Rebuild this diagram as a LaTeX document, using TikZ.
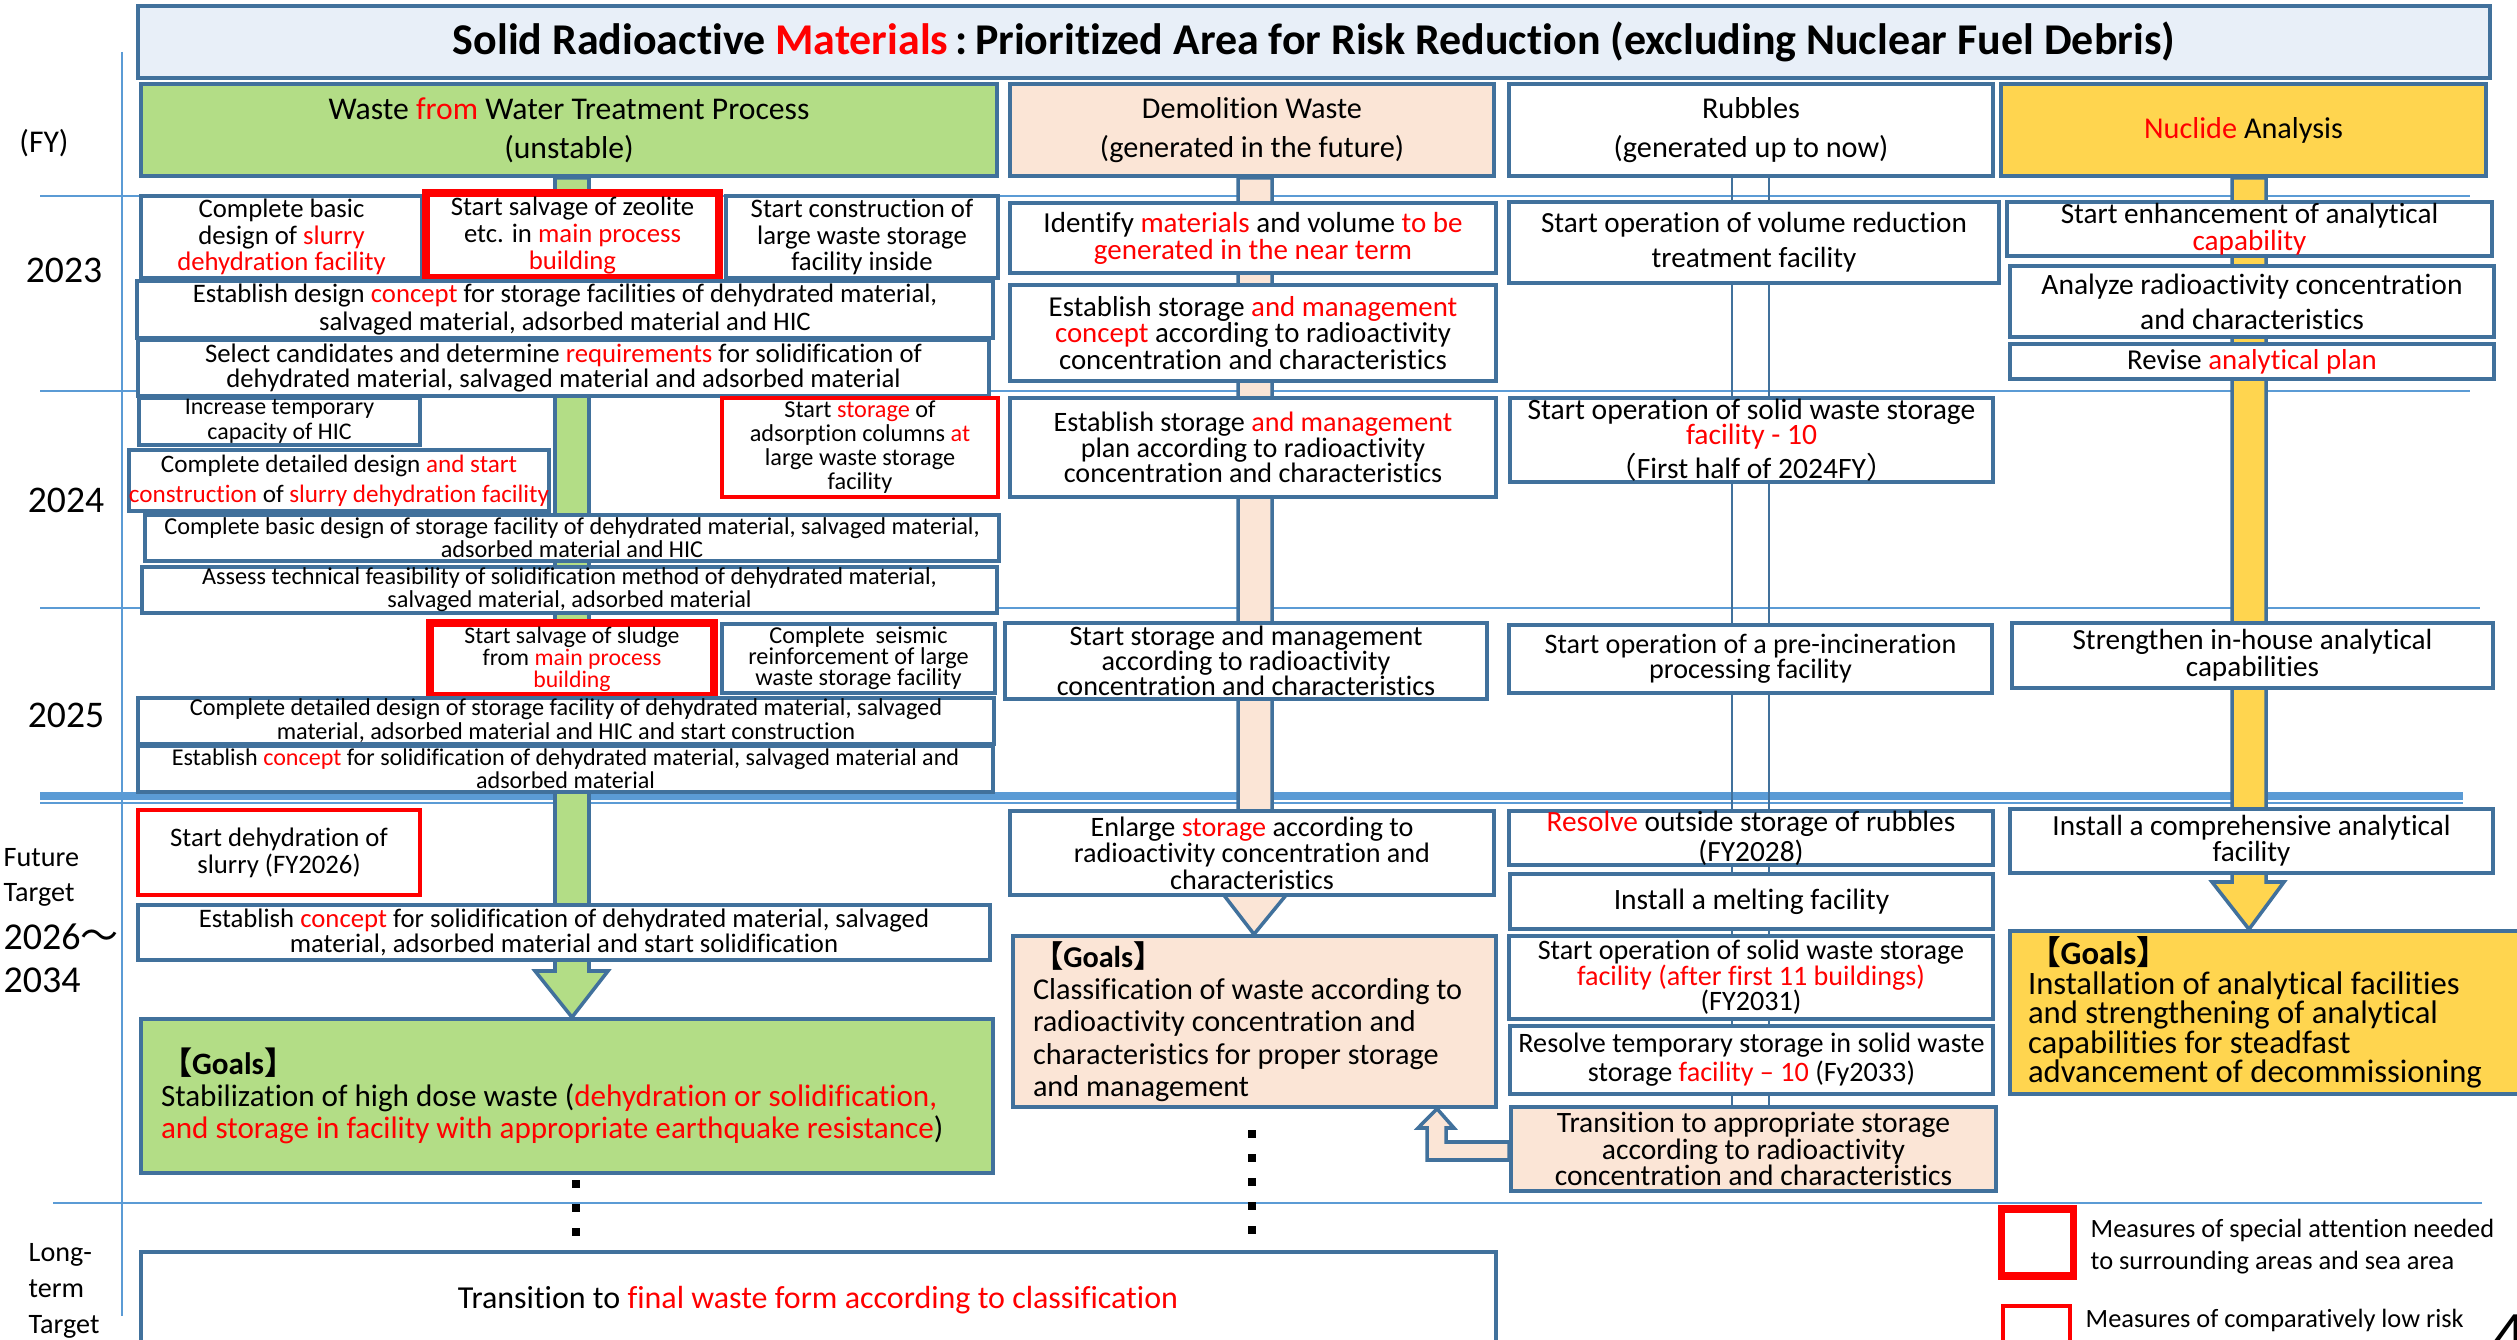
\documentclass[tikz,border=0pt]{standalone}
\usepackage{fontspec}
\setmainfont{Carlito}[Ligatures=NoCommon]
\newfontfamily\cjk{Noto Sans CJK JP}
\usetikzlibrary{calc}
\definecolor{bordblue}{HTML}{41719C}
\definecolor{lineblue}{HTML}{5B9BD5}
\definecolor{titlefill}{HTML}{E8EFF8}
\definecolor{grfill}{HTML}{B3DD86}
\definecolor{pcfill}{HTML}{FBE5D6}
\definecolor{gdfill}{HTML}{FFD54F}
\definecolor{rdc}{HTML}{FF0000}
\newcommand\rd[1]{\textcolor{rdc}{#1}}
\newcommand\fs[2]{\fontsize{#1}{#2}\selectfont}
\newcommand\bx[7]{\node[#6,minimum width={(#4-#2)*0.01cm},minimum height={(#5-#3)*0.01cm}] (#1) at ({(#2+#4)/2},{(#3+#5)/2}) {#7};}
\tikzset{
  bb/.style={draw=bordblue,line width=1pt,fill=white,align=center,inner sep=0pt},
  rthick/.style={draw=rdc,line width=2pt,fill=white,align=center,inner sep=0pt},
  rthin/.style={draw=rdc,line width=0.9pt,fill=white,align=center,inner sep=0pt},
  guide/.style={draw=lineblue,line width=0.6pt},
  barstyle/.style={draw=bordblue,line width=1pt},
  lbl/.style={inner sep=0pt,align=left,anchor=west},
  dotsq/.style={fill=black}
}
\begin{document}
\begin{tikzpicture}[x=0.01cm,y=-0.01cm]
\useasboundingbox (0,0) rectangle (2517,1340);
\clip (0,0) rectangle (2517,1340);
% guide lines
\draw[guide] (122,52) -- (122,1316);
\draw[guide] (40,196) -- (2470,196);
\draw[guide] (40,391) -- (2470,391);
\draw[guide] (40,608) -- (2480,608);
\draw[draw=lineblue,line width=2.3pt] (40,796) -- (2463,796);
\draw[guide] (40,803) -- (2463,803);
\draw[guide] (53,1203) -- (2482,1203);
% title
\bx{title}{138}{6}{2490}{78}{bb,fill=titlefill,font=\fs{12.5}{15}\bfseries}{Solid Radioactive \rd{Materials}\,:\,Prioritized Area for Risk Reduction (excluding Nuclear Fuel Debris)}
% headers
\bx{h1}{141}{84}{997}{176}{bb,fill=grfill,font=\fs{9}{11.1}}{Waste \rd{from} Water Treatment Process\\(unstable)}
\bx{h2}{1010}{84}{1494}{176}{bb,fill=pcfill,font=\fs{8.6}{11.1}}{Demolition Waste\\(generated in the future)}
\bx{h3}{1509}{84}{1993}{176}{bb,font=\fs{8.6}{11.1}}{Rubbles\\(generated up to now)}
\bx{h4}{2001}{84}{2486}{176}{bb,fill=gdfill,font=\fs{8.6}{11.1}}{\rd{Nuclide} Analysis}
% goals boxes (needed for bar tips)
\bx{g1}{141}{1019}{993}{1173}{bb,fill=grfill,font=\fs{8.85}{9.1},align=flush left,text width={(993-141-40)*0.01cm}}{\textbf{{\cjk 【}Goals{\cjk 】}}\\Stabilization of high dose waste (\rd{dehydration or solidification,}\\\rd{and storage in facility with appropriate earthquake resistance})}
\bx{g2}{1013}{936}{1496}{1107}{bb,fill=pcfill,font=\fs{8.6}{9.2},align=flush left,text width={(1496-1013-40)*0.01cm}}{\textbf{{\cjk 【}Goals{\cjk 】}}\\Classification of waste according to\\radioactivity concentration and\\characteristics for proper storage\\and management}
\bx{g4}{2010}{931}{2530}{1094}{bb,fill=gdfill,font=\fs{9.3}{8.4},align=flush left,text width={(2530-2010-36)*0.01cm}}{\textbf{{\cjk 【}Goals{\cjk 】}}\\Installation of analytical facilities\\and strengthening of analytical\\capabilities for steadfast\\advancement of decommissioning}
% bars / block arrows
\draw[barstyle,fill=grfill] (555,0 |- h1.south) -- (555,971) -- (535,971) -- (572,0 |- g1.north) -- (608,971) -- (589,971) -- (589,0 |- h1.south) -- cycle;
\draw[barstyle,fill=pcfill] (1238,0 |- h2.south) -- (1238,894) -- (1223,894) -- (1254,0 |- g2.north) -- (1287,894) -- (1272,894) -- (1272,0 |- h2.south) -- cycle;
\draw[barstyle,fill=gdfill] (2232,0 |- h4.south) -- (2232,882) -- (2212,882) -- (2249,0 |- g4.north) -- (2284,882) -- (2266,882) -- (2266,0 |- h4.south) -- cycle;
\draw[draw=bordblue,line width=0.7pt] (1732,0 |- h3.south) -- (1732,1107);
\draw[draw=bordblue,line width=0.7pt] (1769,0 |- h3.south) -- (1769,1107);
% column 1, 2023
\bx{a1}{141}{196}{422}{278}{bb,font=\fs{7.6}{7.6}}{Complete basic\\design of \rd{slurry}\\\rd{dehydration facility}}
\bx{a2}{426}{193}{719}{278}{rthick,font=\fs{7.6}{7.6}}{Start salvage of zeolite\\etc. in \rd{main process}\\\rd{building}}
\bx{a3}{726}{196}{998}{278}{bb,font=\fs{7.6}{7.6}}{Start construction of\\large waste storage\\facility inside}
\bx{a4}{137}{281}{993}{338}{bb,font=\fs{7.6}{7.7}}{Establish design \rd{concept} for storage facilities of dehydrated material,\\salvaged material, adsorbed material and HIC}
\bx{a5}{138}{340}{989}{396}{bb,font=\fs{7.6}{7.3}}{Select candidates and determine \rd{requirements} for solidification of\\dehydrated material, salvaged material and adsorbed material}
% column 1, 2024
\bx{b1}{139}{398}{420}{445}{bb,font=\fs{6.8}{7.1}}{Increase temporary\\capacity of HIC}
\bx{b2}{133}{450}{545}{511}{bb,font=\fs{7.15}{8.5}}{Complete detailed design \rd{and start}\\\rd{construction} of \rd{slurry dehydration facility}}
\bx{b3}{722}{398}{998}{497}{rthin,font=\fs{6.9}{6.8}}{Start \rd{storage} of\\adsorption columns \rd{at}\\large waste storage\\facility}
\bx{b4}{145}{515}{999}{561}{bb,font=\fs{6.9}{6.6}}{Complete basic design of storage facility of dehydrated material, salvaged material,\\adsorbed material and HIC}
\bx{b5}{142}{567}{997}{613}{bb,font=\fs{6.9}{6.6}}{Assess technical feasibility of solidification method of dehydrated material,\\salvaged material, adsorbed material}
% column 1, 2025
\bx{c1}{430}{623}{714}{696}{rthick,font=\fs{6.75}{6.2}}{Start salvage of sludge\\from \rd{main process}\\\rd{building}}
\bx{c2}{722}{624}{995}{693}{bb,font=\fs{6.9}{6.0}}{Complete~ seismic\\reinforcement of large\\waste storage facility}
\bx{c3}{138}{698}{994}{744}{bb,font=\fs{6.9}{6.8}}{Complete detailed design of storage facility of dehydrated material, salvaged\\material, adsorbed material and HIC and start construction}
\bx{c4}{138}{746}{993}{792}{bb,font=\fs{6.85}{6.6}}{Establish \rd{concept} for solidification of dehydrated material, salvaged material and\\adsorbed material}
% column 1, future
\bx{d1}{138}{810}{420}{895}{rthin,font=\fs{7.6}{7.7}}{Start dehydration of\\slurry (FY2026)}
\bx{d2}{138}{905}{990}{960}{bb,font=\fs{7.6}{7.0}}{Establish \rd{concept} for solidification of dehydrated material, salvaged\\material, adsorbed material and start solidification}
% column 2
\bx{e1}{1010}{203}{1496}{273}{bb,font=\fs{8.25}{7.7}}{Identify \rd{materials} and volume \rd{to be}\\\rd{generated in the near term}}
\bx{e2}{1010}{285}{1496}{381}{bb,font=\fs{8.2}{7.5}}{Establish storage \rd{and management}\\\rd{concept} according to radioactivity\\concentration and characteristics}
\bx{e3}{1010}{398}{1496}{497}{bb,font=\fs{8}{7.3}}{Establish storage \rd{and management}\\plan according to radioactivity\\concentration and characteristics}
\bx{e4}{1005}{623}{1487}{699}{bb,font=\fs{8}{7.1}}{Start storage and management\\according to radioactivity\\concentration and characteristics}
\bx{e5}{1010}{811}{1494}{895}{bb,font=\fs{8}{7.5}}{Enlarge \rd{storage} according to\\radioactivity concentration and\\characteristics}
% column 3
\bx{f1}{1509}{202}{1999}{283}{bb,font=\fs{8.3}{10}}{Start operation of volume reduction\\treatment facility}
\bx{f2}{1510}{398}{1993}{482}{bb,font=\fs{8.4}{7.3}}{Start operation of solid waste storage\\\rd{facility - 10}\\{\cjk （}First half of 2024FY{\cjk ）}}
\bx{f3}{1509}{625}{1992}{693}{bb,font=\fs{8}{7.1}}{Start operation of a pre-incineration\\processing facility}
\bx{f4}{1509}{811}{1993}{865}{bb,font=\fs{8.35}{7.1}}{\rd{Resolve} outside storage of rubbles\\(FY2028)}
\bx{f5}{1510}{874}{1993}{929}{bb,font=\fs{8.4}{7.1}}{Install a melting facility}
\bx{f6}{1509}{936}{1993}{1019}{bb,font=\fs{8}{7.3}}{Start operation of solid waste storage\\\rd{facility (after first 11 buildings)}\\(FY2031)}
\bx{f7}{1510}{1026}{1993}{1094}{bb,font=\fs{8}{6}}{Resolve temporary storage in solid waste\\storage \rd{facility – 10} (Fy2033)}
\bx{f8}{1511}{1107}{1996}{1191}{bb,fill=pcfill,font=\fs{8.4}{7.5}}{Transition to appropriate storage\\according to radioactivity\\concentration and characteristics}
% column 4
\bx{n1}{2007}{202}{2492}{256}{bb,font=\fs{8.3}{7.7}}{Start enhancement of analytical\\\rd{capability}}
\bx{n2}{2010}{266}{2494}{337}{bb,font=\fs{8.4}{10}}{Analyze radioactivity concentration\\and characteristics}
\bx{n3}{2010}{344}{2494}{379}{bb,font=\fs{8.2}{7.7}}{Revise \rd{analytical plan}}
\bx{n4}{2012}{623}{2493}{688}{bb,font=\fs{8.3}{7.7}}{Strengthen in-house analytical\\capabilities}
\bx{n5}{2010}{809}{2493}{873}{bb,font=\fs{8.3}{7.3}}{Install a comprehensive analytical\\facility}
% hollow arrow from f8 to g2
\draw[barstyle,fill=pcfill] (f8.west |- 0,1142) -- (1446,1142) -- (1446,1128) -- (1454,1128) -- (1437,0 |- g2.south) -- (1418,1128) -- (1427,1128) -- (1427,1160) -- (f8.west |- 0,1160) -- cycle;
% long-term box
\bx{lt}{141}{1252}{1496}{1380}{bb}{}
\node[inner sep=0pt,font=\fs{9.1}{10}] (ltt) at (818,1300) {Transition to \rd{final waste form according to classification}};
% continuation dots
\foreach \yy in {1184,1208,1232} \fill[dotsq] (572,\yy-4) rectangle (580,\yy+4);
\foreach \yy in {1134,1158,1182,1206,1230} \fill[dotsq] (1248,\yy-4) rectangle (1256,\yy+4);
% year labels
\node[inner sep=0pt,font=\fs{9}{10}] (fy) at (44,143) {(FY)};
\node[inner sep=0pt,font=\fs{10.7}{12}] (y23) at (64,270) {2023};
\node[inner sep=0pt,font=\fs{10.7}{12}] (y24) at (66,500) {2024};
\node[inner sep=0pt,font=\fs{10.7}{12}] (y25) at (66,715) {2025};
\node[lbl,font=\fs{8}{10}] (fut) at (3,877) {Future\\Target};
\node[lbl,font=\fs{10.8}{12.2}] (futy) at (3,958) {2026{\cjk ～}\\2034};
\node[lbl,font=\fs{8}{10.2}] (lng) at (28,1291) {Long-\\term\\Target};
% legend
\draw[draw=rdc,line width=2pt] (2001,1209) rectangle (2073,1276);
\draw[draw=rdc,line width=0.9pt] (2003,1306) rectangle (2070,1360);
\node[lbl,font=\fs{7.5}{9.1}] (lg1) at (2090,1247) {Measures of special attention needed\\to surrounding areas and sea area};
\node[lbl,font=\fs{7.5}{9.1}] (lg2) at (2085,1320) {Measures of comparatively low risk};
\node[anchor=north west,inner sep=0pt,font=\fs{18}{20}] (pg) at (2493,1314) {4};
\end{tikzpicture}
\end{document}
